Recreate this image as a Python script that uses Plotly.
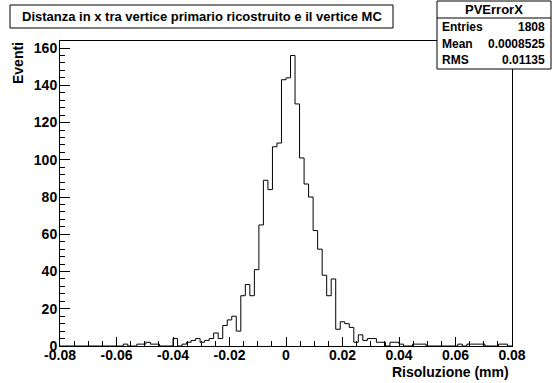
import numpy as np
import plotly.graph_objects as go

# ---------------- data ----------------
x_min, x_max, n_bins = -0.08, 0.08, 100
counts = [
    0, 0, 0, 0, 0, 0, 0, 0, 0, 0,
    0, 0, 0, 0, 1, 0, 0, 1, 1, 2,
    1, 1, 0, 0, 0, 4, 0, 1, 2, 3,
    4, 2, 3, 4, 7, 4, 11, 14, 16, 8,
    27, 33, 27, 41, 65, 89, 84, 107, 109, 143,
    144, 156, 130, 101, 87, 80, 62, 52, 38, 27,
    36, 9, 13, 12, 10, 2, 6, 3, 4, 4,
    2, 2, 0, 2, 2, 1, 0, 0, 1, 1,
    1, 0, 0, 0, 0, 0, 0, 0, 1, 0,
    1, 1, 1, 1, 0, 0, 0, 1, 1, 0,
]
x_tick_vals = [-0.08, -0.06, -0.04, -0.02, 0.0, 0.02, 0.04, 0.06, 0.08]
x_tick_text = ["-0.08", "-0.06", "-0.04", "-0.02", "0", "0.02", "0.04", "0.06", "0.08"]
y_tick_vals = [0, 20, 40, 60, 80, 100, 120, 140, 160]
title_text = "Distanza in x tra vertice primario ricostruito e il vertice MC"
x_title = "Risoluzione (mm)"
y_title = "Eventi"
stats_name = "PVErrorX"
stats_labels = ["Entries", "Mean", "RMS"]
stats_values = ["1808", "0.0008525", "0.01135"]

# ---------------- geometry (pixels) ----------------
W, H = 552, 383
L, R, T, B = 60, 512, 41, 346
FONT = "Liberation Sans, Arial, Helvetica, sans-serif"


def xp(px):
    return (px - L) / (R - L)


def yp(py):
    return (B - py) / (B - T)


edges = np.linspace(x_min, x_max, n_bins + 1)
xs = list(edges)
ys = counts + [counts[-1]]

fig = go.Figure()
fig.add_trace(go.Scatter(
    x=xs, y=ys, mode="lines", line=dict(color="black", width=1, shape="hv"),
    hoverinfo="skip", showlegend=False,
))

ymax = max(counts) * 1.05

axis_common = dict(
    showline=True, mirror=True, linecolor="black", linewidth=1,
    ticks="inside", tickcolor="black", tickwidth=1,
    showgrid=False, zeroline=False,
    tickfont=dict(family=FONT, size=14, color="black", weight="bold"),
)

fig.update_xaxes(
    range=[x_min, x_max], tickmode="array", tickvals=x_tick_vals, ticktext=x_tick_text,
    ticklen=9, ticklabelstandoff=-4,
    minor=dict(dtick=0.005, tick0=0, ticks="inside", ticklen=5, tickcolor="black", showgrid=False),
    **axis_common,
)
fig.update_yaxes(
    range=[0, ymax], tickmode="array", tickvals=y_tick_vals,
    ticklen=10, ticklabelstandoff=-1,
    minor=dict(dtick=4, tick0=0, ticks="inside", ticklen=5, tickcolor="black", showgrid=False),
    **axis_common,
)

shapes = []
annotations = []

# title box
shapes.append(dict(type="rect", xref="paper", yref="paper",
                   x0=xp(10), x1=xp(393), y0=yp(28), y1=yp(5),
                   line=dict(color="black", width=1), fillcolor="white", layer="above"))
annotations.append(dict(xref="paper", yref="paper", x=xp(201.5), y=yp(16.5),
                        text=title_text, showarrow=False, xanchor="center", yanchor="middle",
                        font=dict(family=FONT, size=13, color="black", weight="bold")))

# stats box
sx0, sx1, sy0, sy1 = 437, 551, 1, 69
shapes.append(dict(type="rect", xref="paper", yref="paper",
                   x0=xp(sx0), x1=xp(sx1), y0=yp(sy1), y1=yp(sy0),
                   line=dict(color="black", width=1), fillcolor="white", layer="above"))
shapes.append(dict(type="line", xref="paper", yref="paper",
                   x0=xp(sx0), x1=xp(sx1), y0=yp(18), y1=yp(18),
                   line=dict(color="black", width=1), layer="above"))
annotations.append(dict(xref="paper", yref="paper", x=xp((sx0 + sx1) / 2), y=yp(10),
                        text=stats_name, showarrow=False, xanchor="center", yanchor="middle",
                        font=dict(family=FONT, size=13, color="black", weight="bold")))
row_y = [27, 43.5, 60]
for lab, val, ry in zip(stats_labels, stats_values, row_y):
    annotations.append(dict(xref="paper", yref="paper", x=xp(sx0 + 3), y=yp(ry),
                            text=lab, showarrow=False, xanchor="left", yanchor="middle",
                            font=dict(family=FONT, size=12, color="black", weight="bold")))
    annotations.append(dict(xref="paper", yref="paper", x=xp(sx1 - 4), y=yp(ry),
                            text=val, showarrow=False, xanchor="right", yanchor="middle",
                            font=dict(family=FONT, size=12, color="black", weight="bold")))

# axis titles
annotations.append(dict(xref="paper", yref="paper", x=xp(511), y=yp(372),
                        text=x_title, showarrow=False, xanchor="right", yanchor="middle",
                        font=dict(family=FONT, size=14, color="black", weight="bold")))
annotations.append(dict(xref="paper", yref="paper", x=xp(18), y=yp(40),
                        text=y_title, showarrow=False, xanchor="center", yanchor="top",
                        textangle=-90,
                        font=dict(family=FONT, size=14, color="black", weight="bold")))

fig.update_layout(
    width=W, height=H, autosize=False,
    margin=dict(l=L, r=W - R, t=T, b=H - B, pad=0),
    paper_bgcolor="white", plot_bgcolor="white",
    shapes=shapes, annotations=annotations, showlegend=False,
)

fig.write_html("out.html")
